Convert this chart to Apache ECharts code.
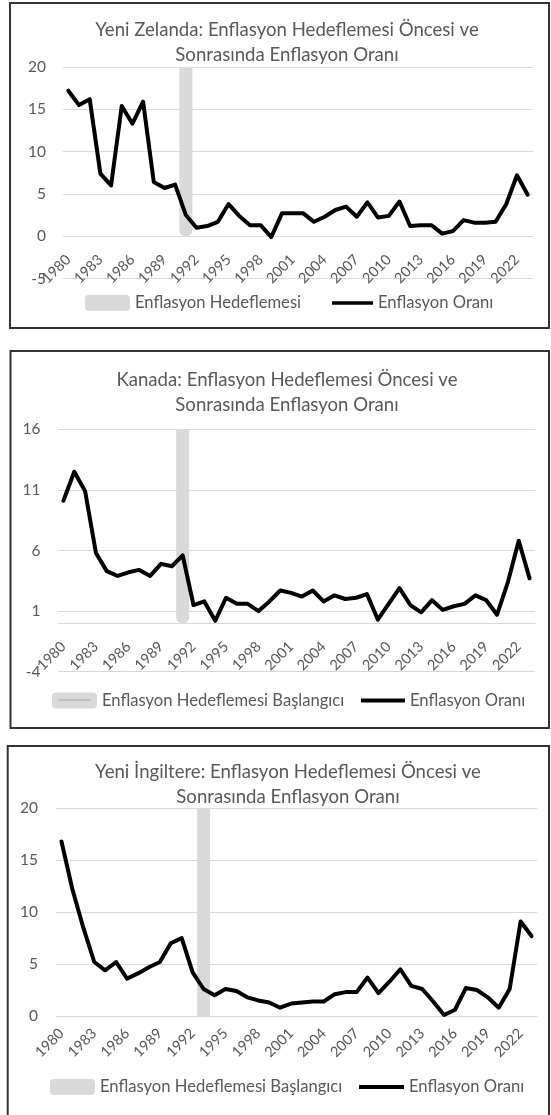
<!DOCTYPE html>
<html><head><meta charset="utf-8">
<script src="https://cdn.jsdelivr.net/npm/echarts@6/dist/echarts.min.js"></script>
<style>html,body{margin:0;padding:0;background:#fff}#c{width:551px;height:1115px}</style>
</head><body><div id="c"></div>
<script>
// ---- data ----
const years = ['1980','1981','1982','1983','1984','1985','1986','1987','1988','1989',
  '1990','1991','1992','1993','1994','1995','1996','1997','1998','1999',
  '2000','2001','2002','2003','2004','2005','2006','2007','2008','2009',
  '2010','2011','2012','2013','2014','2015','2016','2017','2018','2019',
  '2020','2021','2022','2023'];
const nzInflation = [17.2,15.5,16.2,7.4,6.0,15.4,13.3,15.9,6.4,5.7,
  6.1,2.5,1.0,1.2,1.7,3.8,2.4,1.3,1.3,-0.1,
  2.7,2.7,2.7,1.7,2.3,3.1,3.5,2.3,4.0,2.2,
  2.4,4.1,1.2,1.3,1.3,0.3,0.6,1.9,1.6,1.6,
  1.7,3.8,7.2,4.9];
const caInflation = [10.1,12.5,10.9,5.8,4.3,3.9,4.2,4.4,3.9,4.9,
  4.7,5.6,1.5,1.8,0.2,2.1,1.6,1.6,1.0,1.8,
  2.7,2.5,2.2,2.7,1.8,2.3,2.0,2.1,2.4,0.3,
  1.6,2.9,1.5,0.9,1.9,1.1,1.4,1.6,2.3,1.9,
  0.7,3.4,6.8,3.7];
const ukInflation = [16.8,12.2,8.5,5.2,4.4,5.2,3.6,4.1,4.7,5.2,
  7.0,7.5,4.2,2.6,2.0,2.6,2.4,1.8,1.5,1.3,
  0.8,1.2,1.3,1.4,1.4,2.1,2.3,2.3,3.7,2.2,
  3.3,4.5,2.9,2.6,1.4,0.1,0.6,2.7,2.5,1.8,
  0.8,2.6,9.1,7.7];
const nzTargetYear = '1991', nzTargetHeight = 20;
const caTargetYear = '1991', caTargetHeight = 16;
const ukTargetYear = '1993', ukTargetHeight = 20;
const titles = [
  'Yeni Zelanda: Enflasyon Hedeflemesi Öncesi ve\nSonrasında Enflasyon Oranı',
  'Kanada: Enflasyon Hedeflemesi Öncesi ve\nSonrasında Enflasyon Oranı',
  'Yeni İngiltere: Enflasyon Hedeflemesi Öncesi ve\nSonrasında Enflasyon Oranı'
];
const barNames = ['Enflasyon Hedeflemesi','Enflasyon Hedeflemesi Başlangıcı','Enflasyon Hedeflemesi Başlangıcı'];
const lineName = 'Enflasyon Oranı';
const yScales = [[-5,20,5],[-4,16,5],[0,20,5]];

// ---- layout ----
const FONT = 'Lato';
const TXT = '#595959';
const GRID = '#d9d9d9';
const panels = [
  {grid:{left:63,right:18,top:67,height:211.5}, title:{left:287,top:17.5}, legend:{top:294.5, leftA:85, leftB:332, wB:41}, labelMargin:21, yMargin:17, radius:[0,0,6,6]},
  {grid:{left:58,right:16,top:429.3,height:242.4}, title:{left:287,top:367.5}, legend:{top:692, leftA:52, leftB:361, wB:44}, labelMargin:21, yMargin:17.5, radius:[0,0,6,6]},
  {grid:{left:56,right:14,top:808.3,height:207.7}, title:{left:288,top:759}, legend:{top:1078.5, leftA:50, leftB:359, wB:45}, labelMargin:15, yMargin:18, radius:0}
];
const inflations = [nzInflation, caInflation, ukInflation];
const targets = [[nzTargetYear,nzTargetHeight],[caTargetYear,caTargetHeight],[ukTargetYear,ukTargetHeight]];
// category axis crosses the value axis at 0
const zeroOffset = (p,i) => yScales[i][0] < 0 ? -p.grid.height * (0 - yScales[i][0]) / (yScales[i][1] - yScales[i][0]) : 0;
const legendText = {fontFamily:FONT, fontSize:16.6, color:TXT};

const option = {
  animation:false,
  backgroundColor:'#fff',
  title: panels.map((p,i)=>({text:titles[i], left:p.title.left, top:p.title.top, textAlign:'center', padding:0,
    textStyle:{fontFamily:FONT, fontSize:18.6, fontWeight:'normal', color:TXT, lineHeight:25}})),
  legend: [].concat(...panels.map((p,i)=>[
    {left:p.legend.leftA, top:p.legend.top, padding:0, itemWidth:45, itemHeight:16, selectedMode:false, textStyle:legendText,
      data:[{name:barNames[i], icon:'roundRect', itemStyle:{color:GRID}}]},
    {left:p.legend.leftB, top:p.legend.top, padding:0, itemWidth:p.legend.wB, itemHeight:16, selectedMode:false, textStyle:legendText,
      data:[{name:lineName, icon:'path://M0,0H44V4H0Z', itemStyle:{color:'#000'}, lineStyle:{color:'#000', width:4}}]}
  ])),
  grid: panels.map(p=>Object.assign({outerBoundsMode:'none', containLabel:false}, p.grid)),
  xAxis: panels.map((p,i)=>({type:'category', gridIndex:i, data:years, boundaryGap:true, position:'bottom',
    offset: zeroOffset(p,i),
    axisTick:{show:false}, axisLine:{show:true, onZero:false, lineStyle:{color:GRID, width:1}},
    axisLabel:{interval:2, rotate:45, margin:p.labelMargin, color:TXT, fontFamily:FONT, fontSize:14.5},
    splitLine:{show:false}})),
  yAxis: panels.map((p,i)=>({type:'value', gridIndex:i, min:yScales[i][0], max:yScales[i][1], interval:yScales[i][2],
    axisLine:{show:false}, axisTick:{show:false},
    axisLabel:{margin:p.yMargin, color:TXT, fontFamily:FONT, fontSize:15.5},
    splitLine:{lineStyle:{color:GRID, width:1}}})),
  series: [].concat(...panels.map((p,i)=>[
    {type:'bar', name:barNames[i], xAxisIndex:i, yAxisIndex:i, barWidth:13, silent:true, z:1,
      data: years.map(y=> y===targets[i][0] ? targets[i][1] : null),
      itemStyle:{color:GRID, borderRadius:p.radius}},
    {type:'line', name:lineName, xAxisIndex:i, yAxisIndex:i, symbol:'none', silent:true, z:3,
      data: inflations[i],
      itemStyle:{color:'#000'},
      lineStyle:{color:'#000', width:4, cap:'round', join:'round'}}
  ])),
  graphic: [
    {type:'rect', silent:true, z:100, shape:{x:10, y:3, width:539, height:325}, style:{fill:'none', stroke:'#333', lineWidth:2}},
    {type:'rect', silent:true, z:100, shape:{x:10.5, y:351, width:538.5, height:377}, style:{fill:'none', stroke:'#333', lineWidth:2}},
    {type:'rect', silent:true, z:100, shape:{x:7.7, y:746, width:541.3, height:380}, style:{fill:'none', stroke:'#333', lineWidth:2}},
    {type:'line', silent:true, z:100, shape:{x1:58, y1:700, x2:91, y2:700}, style:{stroke:'#bfbfbf', lineWidth:2}}
  ]
};
const chart = echarts.init(document.getElementById('c'), null, {renderer:'canvas'});
chart.setOption(option);
</script></body></html>
